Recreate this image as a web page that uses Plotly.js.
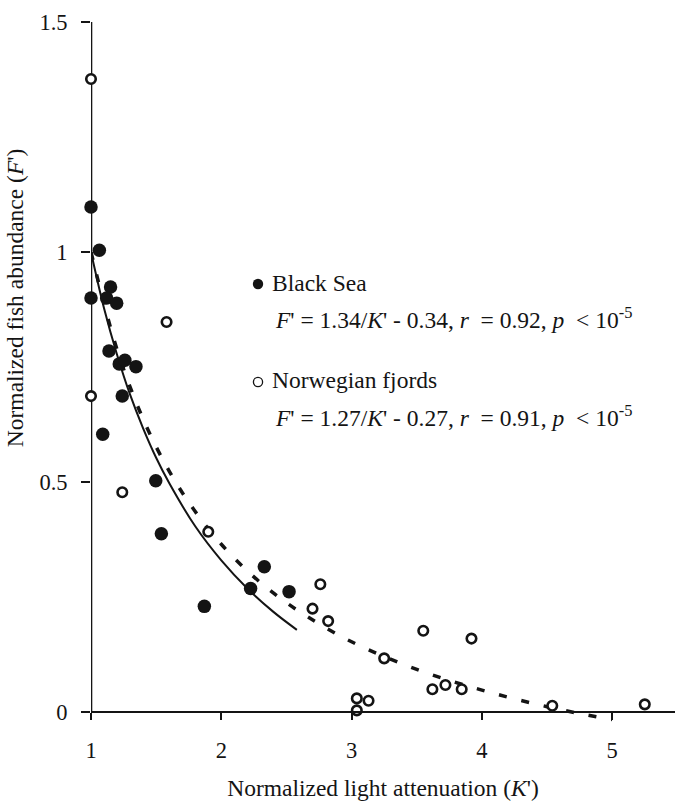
<!DOCTYPE html>
<html><head><meta charset="utf-8">
<script src="https://cdn.plot.ly/plotly-3.0.1.min.js"></script>
<style>html,body{margin:0;padding:0;background:#fff;}#chart{width:675px;height:801px;}</style>
</head><body><div id="chart"></div>
<script>
// Black Sea observations (normalized light attenuation K', normalized fish abundance F')
const blackSeaK = [1.0, 1.064, 1.15, 1.0, 1.12, 1.197, 1.138, 1.217, 1.26, 1.345, 1.24, 1.09, 1.497, 1.54, 2.33, 2.225, 1.87, 2.52];
const blackSeaF = [1.098, 1.004, 0.924, 0.9, 0.9, 0.889, 0.785, 0.757, 0.765, 0.751, 0.687, 0.604, 0.503, 0.388, 0.316, 0.269, 0.230, 0.262];
// Norwegian fjords observations
const norwayK = [1.0, 1.58, 1.0, 1.24, 1.90, 2.76, 2.70, 2.82, 3.25, 3.55, 3.92, 3.62, 3.72, 3.845, 3.04, 3.13, 3.04, 4.54, 5.25];
const norwayF = [1.376, 0.848, 0.687, 0.478, 0.392, 0.278, 0.225, 0.198, 0.117, 0.177, 0.160, 0.050, 0.059, 0.050, 0.030, 0.025, 0.004, 0.014, 0.017];
// Fitted curves
const blackFitK = [1.0, 1.1, 1.2, 1.3, 1.4, 1.5, 1.6, 1.8, 2.0, 2.2, 2.4, 2.58];
const blackFitF = [1.0, 0.878, 0.777, 0.69, 0.617, 0.553, 0.498, 0.404, 0.33, 0.269, 0.218, 0.179];
const norwayFitK = [1.0, 1.2, 1.4, 1.6, 1.8, 2.0, 2.25, 2.5, 2.75, 3.0, 3.25, 3.5, 3.75, 4.0, 4.25, 4.5, 4.75, 5.0];
const norwayFitF = [1.0, 0.788, 0.637, 0.524, 0.436, 0.365, 0.294, 0.238, 0.192, 0.153, 0.121, 0.093, 0.069, 0.048, 0.029, 0.012, -0.003, -0.016];
// Axis ticks
const xTickVals = [1, 2, 3, 4, 5];
const xTickText = ['1', '2', '3', '4', '5'];
const yTickVals = [0, 0.5, 1, 1.5];
const yTickText = ['0', '0.5', '1', '1.5'];
// Texts
const seriesNames = ['Black Sea', 'Norwegian fjords'];
const fitTexts = [
  '<i>F</i>\' = 1.34/<i>K</i>\' - 0.34, <i>r</i>  = 0.92, <i>p</i>  &lt; 10<sup>-5</sup>',
  '<i>F</i>\' = 1.27/<i>K</i>\' - 0.27, <i>r</i>  = 0.91, <i>p</i>  &lt; 10<sup>-5</sup>'
];

const ink = '#141414';
const font = 'Liberation Serif';
const fs = 23.5;
const yMin = -0.03, yMax = 1.5;

const traces = [
  {x: blackFitK, y: blackFitF, mode: 'lines', line: {color: ink, width: 2, shape: 'spline'}, hoverinfo: 'skip', name: 'Black Sea fit'},
  {x: norwayFitK, y: norwayFitF, mode: 'lines', line: {color: ink, width: 3.5, dash: '8px,15px', shape: 'spline'}, hoverinfo: 'skip', name: 'Norwegian fjords fit'},
  {x: blackSeaK, y: blackSeaF, mode: 'markers', name: seriesNames[0], cliponaxis: false,
   marker: {symbol: 'circle', size: 13.5, color: ink, line: {width: 0}}},
  {x: norwayK, y: norwayF, mode: 'markers', name: seriesNames[1], cliponaxis: false,
   marker: {symbol: 'circle', size: 9.5, color: '#ffffff', line: {width: 2.6, color: ink}}}
];

const pxX = k => 1 + (k - 91) / 130.3;      // helper for text placement only
const pxY = p => (712.2 - p) / 460.1;

const layout = {
  width: 675, height: 801,
  margin: {l: 91, r: 0, t: 22, b: 75, pad: 0},
  paper_bgcolor: '#ffffff', plot_bgcolor: '#ffffff',
  showlegend: false,
  font: {family: font, color: ink, size: fs},
  xaxis: {
    range: [1, 1 + 584 / 130.3], anchor: 'free', position: (0 - yMin) / (yMax - yMin),
    showgrid: false, zeroline: false, showline: true, linecolor: ink, linewidth: 2,
    ticks: 'outside', ticklen: 7, tickwidth: 2, tickcolor: ink,
    tickvals: xTickVals, ticktext: xTickText, ticklabelstandoff: 11,
    tickfont: {family: font, size: 22.5, color: ink},
    title: {text: 'Normalized light attenuation (<i>K</i>\')', font: {family: font, size: fs, color: ink}, standoff: 16},
    automargin: false, fixedrange: true
  },
  yaxis: {
    range: [yMin, yMax], showgrid: false, zeroline: false, showline: false,
    ticks: 'outside', ticklen: 9, tickwidth: 2, tickcolor: ink,
    tickvals: yTickVals, ticktext: yTickText, ticklabelstandoff: 9,
    tickfont: {family: font, size: 22.5, color: ink},
    automargin: false, fixedrange: true
  },
  shapes: [
    {type: 'line', xref: 'x', yref: 'y', x0: 1, x1: 1, y0: 0, y1: yMax, line: {color: ink, width: 2.6}, layer: 'below'},
    {type: 'circle', xref: 'x', yref: 'y', xsizemode: 'pixel', ysizemode: 'pixel',
     xanchor: pxX(258), yanchor: pxY(284), x0: -5.2, x1: 5.2, y0: -5.2, y1: 5.2, fillcolor: ink, line: {width: 0}},
    {type: 'circle', xref: 'x', yref: 'y', xsizemode: 'pixel', ysizemode: 'pixel',
     xanchor: pxX(258), yanchor: pxY(382), x0: -4.6, x1: 4.6, y0: -4.6, y1: 4.6, fillcolor: '#ffffff', line: {width: 1.3, color: ink}}
  ],
  annotations: [
    {text: seriesNames[0], xref: 'x', yref: 'y', x: pxX(270), y: pxY(283), xanchor: 'left', yanchor: 'middle', showarrow: false, font: {family: font, size: fs}},
    {text: fitTexts[0], xref: 'x', yref: 'y', x: pxX(273), y: pxY(318), xanchor: 'left', yanchor: 'middle', showarrow: false, font: {family: font, size: fs}},
    {text: seriesNames[1], xref: 'x', yref: 'y', x: pxX(270), y: pxY(380), xanchor: 'left', yanchor: 'middle', showarrow: false, font: {family: font, size: fs}},
    {text: fitTexts[1], xref: 'x', yref: 'y', x: pxX(273), y: pxY(416), xanchor: 'left', yanchor: 'middle', showarrow: false, font: {family: font, size: fs}},
    {text: 'Normalized fish abundance (<i>F</i>\')', xref: 'paper', yref: 'paper', x: (15 - 91) / 584, y: (725.8 - 298) / 704,
     xanchor: 'center', yanchor: 'middle', textangle: -90, showarrow: false, font: {family: font, size: fs}}
  ]
};

Plotly.newPlot('chart', traces, layout, {staticPlot: true, displayModeBar: false});
</script>
</body></html>
